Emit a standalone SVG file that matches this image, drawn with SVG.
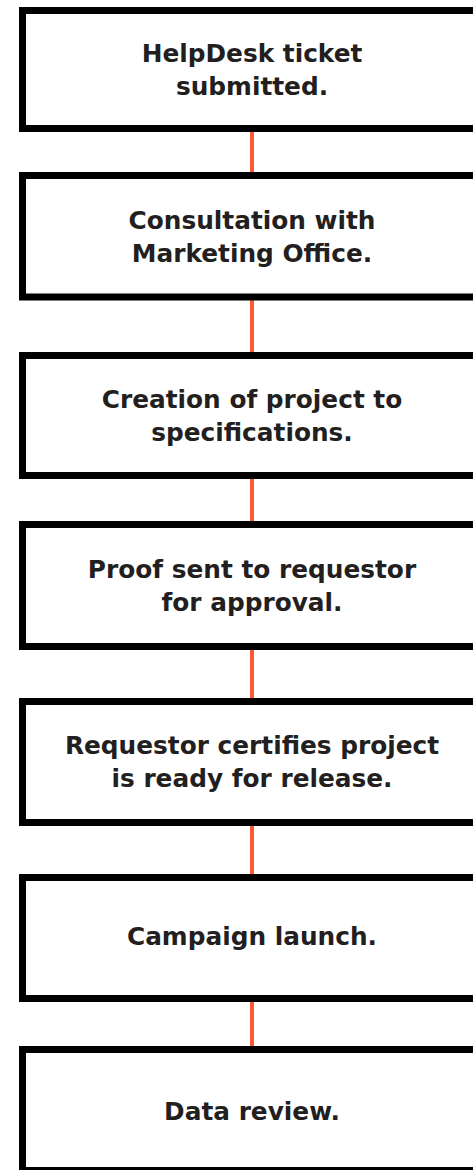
<svg xmlns="http://www.w3.org/2000/svg" width="473" height="1170" viewBox="0 0 473 1170">
<style>
.box{fill:#ffffff;stroke:#000000;stroke-width:7}
.lbl{font-family:"DejaVu Sans","Liberation Sans",sans-serif;font-weight:bold;font-size:24.8px;fill:#231f20;text-anchor:middle}
.conn{stroke:#ff5a36;stroke-width:4;fill:none}
</style>
<rect width="473" height="1170" fill="#ffffff"/>
<g id="connectors">
<line class="conn" x1="252" y1="132" x2="252" y2="172"/>
<line class="conn" x1="252" y1="300" x2="252" y2="352"/>
<line class="conn" x1="252" y1="479" x2="252" y2="521"/>
<line class="conn" x1="252" y1="650" x2="252" y2="698"/>
<line class="conn" x1="252" y1="826" x2="252" y2="874"/>
<line class="conn" x1="252" y1="1002" x2="252" y2="1046"/>
</g>
<g id="node1"><rect class="box" x="22.5" y="10.5" width="470" height="118"/>
<text class="lbl" x="252" y="62">HelpDesk ticket</text><text class="lbl" x="252" y="95">submitted.</text></g>
<g id="node2"><rect class="box" x="22.5" y="175.5" width="470" height="121.5"/>
<text class="lbl" x="252" y="229">Consultation with</text><text class="lbl" x="252" y="262">Marketing Office.</text></g>
<g id="node3"><rect class="box" x="22.5" y="355.5" width="470" height="120"/>
<text class="lbl" x="252" y="408">Creation of project to</text><text class="lbl" x="252" y="441">specifications.</text></g>
<g id="node4"><rect class="box" x="22.5" y="524.5" width="470" height="122"/>
<text class="lbl" x="252" y="578">Proof sent to requestor</text><text class="lbl" x="252" y="611">for approval.</text></g>
<g id="node5"><rect class="box" x="22.5" y="701.5" width="470" height="121"/>
<text class="lbl" x="252" y="754">Requestor certifies project</text><text class="lbl" x="252" y="787">is ready for release.</text></g>
<g id="node6"><rect class="box" x="22.5" y="877.5" width="470" height="121"/>
<text class="lbl" x="252" y="945">Campaign launch.</text></g>
<g id="node7"><rect class="box" x="22.5" y="1049.5" width="470" height="121"/>
<text class="lbl" x="252" y="1120">Data review.</text></g>
</svg>
